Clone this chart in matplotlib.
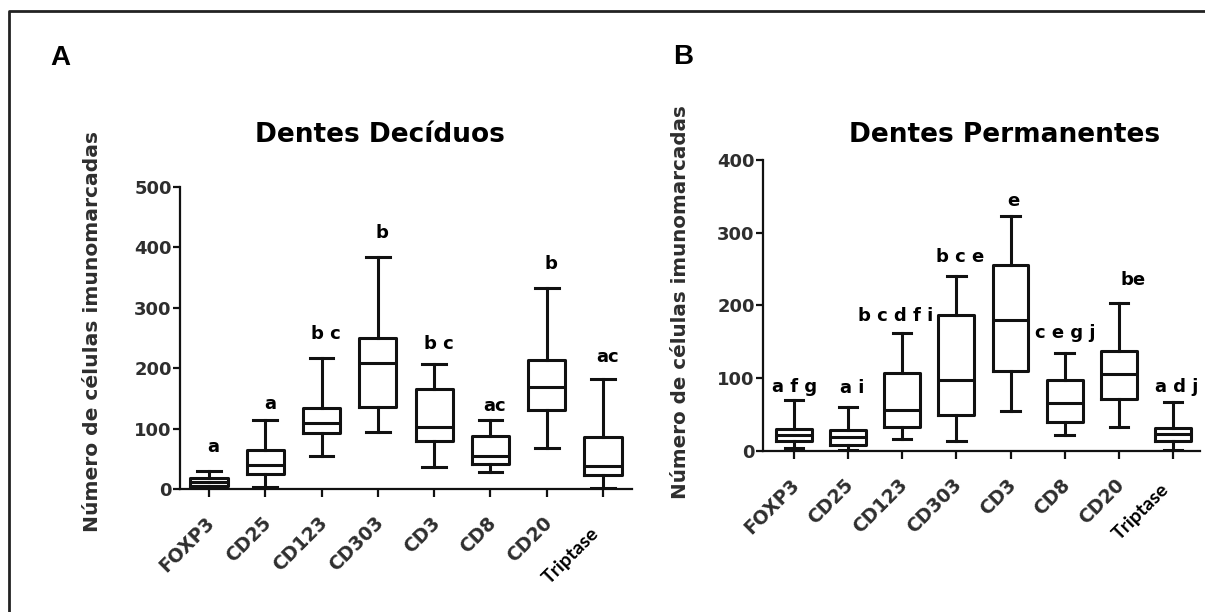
import numpy as np
import matplotlib.pyplot as plt
from matplotlib.transforms import ScaledTranslation
from matplotlib.lines import Line2D

# Marcadores (eixo x)
marcadores = ['FOXP3', 'CD25', 'CD123', 'CD303', 'CD3', 'CD8', 'CD20', 'Triptase']

# Dentes deciduos: minimo, Q1, mediana, Q3, maximo
dec_min = [0, 4, 54, 95, 37, 28, 68, 1]
dec_q1 = [5, 25, 92, 136, 80, 41, 130, 23]
dec_med = [12, 39, 110, 209, 103, 54, 169, 38]
dec_q3 = [18, 65, 134, 250, 166, 87, 213, 86]
dec_max = [30, 114, 217, 384, 207, 114, 333, 182]
dec_letras = ['a', 'a', 'b c', 'b', 'b c', 'ac', 'b', 'ac']

# Dentes permanentes
perm_min = [4, 1, 16, 14, 55, 22, 33, 2]
perm_q1 = [14, 8, 33, 49, 110, 40, 72, 14]
perm_med = [22, 19, 56, 98, 180, 66, 106, 24]
perm_q3 = [30, 29, 107, 187, 256, 98, 137, 32]
perm_max = [70, 61, 162, 240, 323, 135, 203, 67]
perm_letras = ['a f g', 'a i', 'b c d f i', 'b c e', 'e', 'c e g j', 'be', 'a d j']

# Altura (em unidades do eixo) e deslocamento x das letras
dec_letras_y = [69, 141, 257, 423, 240, 138, 373, 219]
dec_letras_dx = [0.08] * 8
perm_letras_y = [88, 86, 185, 267, 343, 162, 235, 88]
perm_letras_dx = [0.02, 0.07, -0.13, 0.07, 0.05, 0.02, 0.26, 0.07]

cor_linha = '#111111'
cor_texto = '#2e2e2e'
ylabel = 'Número de células imunomarcadas'

fig = plt.figure(figsize=(12.05, 6.12), dpi=100)


def painel(ax, mins, q1s, meds, q3s, maxs, letras, letras_y, letras_dx, ymax, xlim, capw, trip_dy):
    stats = []
    for i in range(len(marcadores)):
        stats.append({'whislo': mins[i], 'q1': q1s[i], 'med': meds[i],
                      'q3': q3s[i], 'whishi': maxs[i], 'fliers': []})
    pos = np.arange(1, len(marcadores) + 1)
    estilo = dict(color=cor_linha, linewidth=2.2)
    ax.bxp(stats, positions=pos, widths=0.66, capwidths=capw, showfliers=False,
           boxprops=estilo, medianprops=estilo, whiskerprops=estilo, capprops=estilo)

    ax.set_xlim(*xlim)
    ax.set_ylim(0, ymax)
    ax.set_yticks(np.arange(0, ymax + 1, 100))
    for lbl in ax.get_yticklabels():
        lbl.set_fontweight('bold')
        lbl.set_color(cor_texto)
        lbl.set_fontsize(13)
    ax.tick_params(axis='y', length=5, width=1.6, color=cor_linha, pad=1)
    ax.tick_params(axis='x', length=6, width=1.6, color=cor_linha)
    ax.set_xticks(pos)
    ax.set_xticklabels([])
    for s in ['top', 'right']:
        ax.spines[s].set_visible(False)
    for s in ['left', 'bottom']:
        ax.spines[s].set_linewidth(1.6)
        ax.spines[s].set_color(cor_linha)

    # rotulos do eixo x (rodados 45 graus)
    trans_x = ax.get_xaxis_transform()
    for i, nome in enumerate(marcadores):
        if nome == 'Triptase':
            off = ScaledTranslation(-13 / 100, trip_dy / 100, fig.dpi_scale_trans)
            ax.text(pos[i], 0, nome, rotation=45, ha='right', va='top',
                    rotation_mode='anchor', fontsize=14, fontweight='bold',
                    family='Lato', color='black', transform=trans_x + off)
        else:
            off = ScaledTranslation(-4 / 100, -24 / 100, fig.dpi_scale_trans)
            ax.text(pos[i], 0, nome, rotation=45, ha='right', va='top',
                    rotation_mode='anchor', fontsize=13.5, fontweight='bold',
                    color=cor_texto, transform=trans_x + off)

    # letras de significancia
    for i, txt in enumerate(letras):
        ax.text(pos[i] + letras_dx[i], letras_y[i], txt, ha='center', va='center',
                fontsize=13, fontweight='bold', color='black')


ax1 = fig.add_axes([0.1494, 0.2010, 0.3751, 0.4935])
painel(ax1, dec_min, dec_q1, dec_med, dec_q3, dec_max, dec_letras,
       dec_letras_y, dec_letras_dx, 500, (0.485, 8.515), 0.42, -36)

ax2 = fig.add_axes([0.6332, 0.2631, 0.3627, 0.4755])
painel(ax2, perm_min, perm_q1, perm_med, perm_q3, perm_max, perm_letras,
       perm_letras_y, perm_letras_dx, 400, (0.43, 8.5), 0.34, -30)

# titulos, letras dos paineis e rotulos y
fig.text(380 / 1205, 1 - 135 / 612, 'Dentes Decíduos', ha='center', va='center',
         fontsize=19, fontweight='bold', color='black')
fig.text(1005 / 1205, 1 - 135 / 612, 'Dentes Permanentes', ha='center', va='center',
         fontsize=19, fontweight='bold', color='black')
fig.text(60 / 1205, 1 - 58 / 612, 'A', ha='center', va='center',
         fontsize=20, fontweight='bold', family='Liberation Sans')
fig.text(683 / 1205, 1 - 57 / 612, 'B', ha='center', va='center',
         fontsize=20, fontweight='bold', family='Liberation Sans')
fig.text(92 / 1205, 1 - 331 / 612, ylabel, rotation=90, ha='center', va='center',
         fontsize=14.6, fontweight='bold', color=cor_texto)
fig.text(681 / 1205, 1 - 302 / 612, ylabel, rotation=90, ha='center', va='center',
         fontsize=14.3, fontweight='bold', color=cor_texto)

# moldura externa (apenas topo e esquerda visiveis)
x0 = 8.5 / 1205
y0 = 1 - 11 / 612
fig.add_artist(Line2D([x0, x0, 1.01], [-0.01, y0, y0], transform=fig.transFigure,
                      color='#222222', linewidth=2.0))

fig.savefig('out.png', dpi=100)
